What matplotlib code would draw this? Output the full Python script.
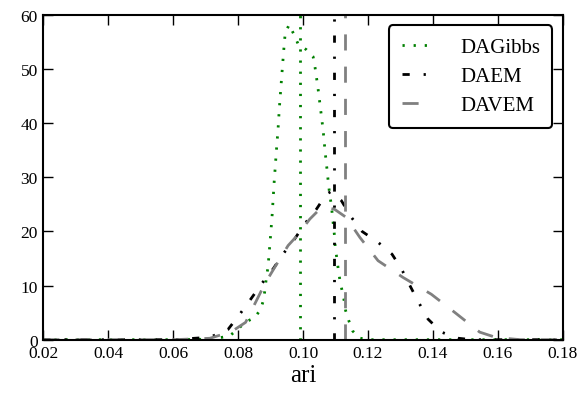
import matplotlib
matplotlib.use("Agg")
import matplotlib.pyplot as plt

plt.rcParams['font.family'] = ['Liberation Serif', 'DejaVu Serif']

# density curves (ari -> density)
gibbs_x = [0.020, 0.060, 0.072, 0.0774, 0.0800, 0.0824, 0.0852, 0.0870, 0.0879, 0.0887,
           0.0892, 0.0900, 0.0905, 0.0911, 0.0918, 0.0923, 0.0927, 0.0932, 0.0937, 0.0942,
           0.0945, 0.0957, 0.0972, 0.0985, 0.1010, 0.1031, 0.1037, 0.1046, 0.1054, 0.1062,
           0.1068, 0.1075, 0.1078, 0.1082, 0.1087, 0.1097, 0.1099, 0.1104, 0.1108, 0.1113,
           0.1119, 0.1126, 0.1131, 0.1141, 0.1153, 0.1174, 0.1200, 0.180]
gibbs_y = [0, 0, 0.1, 0.7, 2.0, 3.3, 4.1, 5.7, 7.5, 11.4,
           13.4, 19.2, 23.2, 29.1, 35.0, 38.9, 42.8, 46.8, 50.8, 54.6,
           56.6, 58.2, 56.4, 54.6, 53.6, 52.3, 50.3, 46.5, 42.6, 38.6,
           34.7, 30.8, 28.9, 26.9, 24.9, 19.1, 17.1, 15.1, 13.2, 11.2,
           9.4, 7.4, 5.4, 3.5, 1.6, 0.3, 0, 0]

daem_x = [0.020, 0.060, 0.0713, 0.0769, 0.0805, 0.0839, 0.0872, 0.0908, 0.0938, 0.0974,
          0.1005, 0.1041, 0.1072, 0.1087, 0.1118, 0.1149, 0.1182, 0.1231, 0.1274, 0.1303,
          0.1330, 0.1356, 0.1385, 0.1426, 0.1479, 0.152, 0.180]
daem_y = [0, 0, 0.45, 1.9, 4.7, 7.5, 10.3, 13.1, 15.8, 18.6,
          21.4, 24.1, 26.9, 27.4, 25.7, 22.6, 20.0, 18.0, 15.8, 13.1,
          9.9, 6.9, 3.8, 1.4, 0.26, 0, 0]

davem_x = [0.020, 0.060, 0.0713, 0.0780, 0.0823, 0.0882, 0.0910, 0.0954, 0.0980, 0.1021,
           0.1046, 0.1066, 0.1097, 0.1133, 0.1175, 0.1231, 0.1308, 0.1395, 0.1466, 0.1544,
           0.1595, 0.167, 0.180]
davem_y = [0, 0, 0.26, 1.5, 3.2, 10.3, 13.1, 17.4, 19.1, 22.3,
           23.8, 24.5, 24.1, 22.6, 18.9, 14.6, 11.5, 8.4, 5.1, 1.4,
           0.4, 0, 0]

# mean ari of each method
gibbs_mean = 0.0990
daem_mean = 0.1094
davem_mean = 0.1129

dotted = (0, (0.8, 3.2))
dashdot = (0, (2.6, 5, 0.8, 5))
dashed = (0, (5.8, 5.8))

fig = plt.figure(figsize=(5.82, 4.02), dpi=100)
ax = fig.add_axes([0.0744, 0.1525, 0.8926, 0.8077])

ax.plot(gibbs_x, gibbs_y, color='#008000', linestyle=dotted, lw=2, label='DAGibbs')
ax.plot(daem_x, daem_y, color='black', linestyle=dashdot, lw=2, label='DAEM')
ax.plot(davem_x, davem_y, color='#808080', linestyle=dashed, lw=2, label='DAVEM')

ax.axvline(gibbs_mean, color='#008000', linestyle=dotted, lw=2)
ax.axvline(daem_mean, color='black', linestyle=dashdot, lw=2)
ax.axvline(davem_mean, color='#808080', linestyle=dashed, lw=2)

ax.set_xlim(0.02, 0.18)
ax.set_ylim(0, 60)
ax.set_xticks([0.02, 0.04, 0.06, 0.08, 0.10, 0.12, 0.14, 0.16, 0.18])
ax.set_xticklabels(['0.02', '0.04', '0.06', '0.08', '0.10', '0.12', '0.14', '0.16', '0.18'])
ax.set_yticks([0, 10, 20, 30, 40, 50, 60])
ax.tick_params(direction='in', length=7, width=1, top=True, right=True, labelsize=12.5, pad=4)
for s in ax.spines.values():
    s.set_linewidth(1.5)

ax.set_xlabel('ari', fontsize=18, labelpad=2)

leg = ax.legend(loc='upper right', fontsize=15, handlelength=1.3, handletextpad=1.5,
                labelspacing=0.45, borderpad=0.6, borderaxespad=0.5, fancybox=True,
                framealpha=1)
leg.get_frame().set_edgecolor('black')
leg.get_frame().set_linewidth(1.5)

fig.savefig('out.png', dpi=100)
